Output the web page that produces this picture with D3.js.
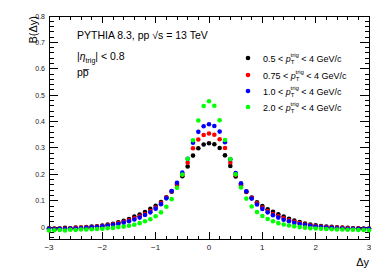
<!DOCTYPE html>
<html>
<head>
<meta charset="utf-8">
<script src="https://cdn.jsdelivr.net/npm/d3@7"></script>
<style>
  body { margin: 0; background: #fff; }
  svg { display: block; font-family: "Liberation Sans", Arial, sans-serif; }
</style>
</head>
<body>
<div id="chart"></div>
<script>
// bin centres in delta y
const dy = [-3.0,-2.9,-2.8,-2.7,-2.6,-2.5,-2.4,-2.3,-2.2,-2.1,-2.0,-1.9,-1.8,-1.7,-1.6,-1.5,-1.4,-1.3,-1.2,-1.1,
            -1.0,-0.9,-0.8,-0.7,-0.6,-0.5,-0.4,-0.3,-0.2,-0.1,0.0,0.1,0.2,0.3,0.4,0.5,0.6,0.7,0.8,0.9,
            1.0,1.1,1.2,1.3,1.4,1.5,1.6,1.7,1.8,1.9,2.0,2.1,2.2,2.3,2.4,2.5,2.6,2.7,2.8,2.9,3.0];

// B(dy) for each trigger pT range
const pt05 = [-0.004,-0.005,-0.005,-0.003,-0.004,-0.002,-0.002,0.000,0.002,0.003,0.006,0.010,0.013,0.018,0.024,0.031,0.040,0.048,0.057,0.069,
              0.081,0.095,0.113,0.134,0.160,0.193,0.230,0.271,0.299,0.313,0.318,0.314,0.300,0.272,0.232,0.192,0.158,0.133,0.112,0.094,
              0.080,0.068,0.058,0.049,0.040,0.032,0.025,0.019,0.014,0.010,0.007,0.004,0.002,0.001,-0.001,-0.002,-0.003,-0.004,-0.004,-0.005,-0.005];
const pt075 = [-0.006,-0.006,-0.005,-0.005,-0.004,-0.003,-0.002,-0.001,0.000,0.002,0.004,0.007,0.011,0.015,0.020,0.026,0.033,0.041,0.050,0.061,
               0.074,0.091,0.112,0.136,0.163,0.199,0.244,0.299,0.332,0.349,0.355,0.350,0.333,0.300,0.245,0.198,0.162,0.135,0.111,0.090,
               0.074,0.061,0.050,0.041,0.033,0.026,0.020,0.015,0.010,0.007,0.004,0.002,0.000,-0.001,-0.002,-0.003,-0.004,-0.005,-0.005,-0.006,-0.006];
const pt10 = [-0.007,-0.008,-0.006,-0.007,-0.005,-0.005,-0.004,-0.003,-0.001,0.000,0.003,0.005,0.009,0.012,0.017,0.022,0.029,0.036,0.046,0.056,
              0.070,0.087,0.109,0.137,0.168,0.207,0.259,0.320,0.361,0.382,0.390,0.383,0.362,0.322,0.257,0.205,0.166,0.136,0.108,0.086,
              0.069,0.056,0.045,0.036,0.028,0.022,0.016,0.012,0.008,0.005,0.002,0.000,-0.002,-0.003,-0.004,-0.005,-0.006,-0.006,-0.007,-0.007,-0.007];
const pt20 = [-0.013,-0.012,-0.011,-0.013,-0.010,-0.011,-0.009,-0.009,-0.008,-0.007,-0.006,-0.004,-0.003,0.000,0.002,0.005,0.009,0.015,0.022,0.030,
              0.041,0.056,0.077,0.106,0.149,0.199,0.259,0.329,0.404,0.459,0.477,0.460,0.405,0.330,0.258,0.200,0.150,0.108,0.078,0.057,
              0.042,0.031,0.022,0.015,0.010,0.006,0.003,0.000,-0.002,-0.004,-0.005,-0.006,-0.007,-0.008,-0.009,-0.009,-0.010,-0.010,-0.011,-0.011,-0.012];

const ptLow = ["0.5", "0.75", "1.0", "2.0"];
const colors = ["#000000", "#ff0000", "#0000ff", "#00ff00"];
const seriesVals = [pt05, pt075, pt10, pt20];

const xTicks = [-3, -2, -1, 0, 1, 2, 3];
const yTicks = [0, 0.1, 0.2, 0.3, 0.4, 0.5, 0.6, 0.7, 0.8];

const W = 378, H = 273;
const margin = {top: 16, right: 9, bottom: 34, left: 49};
const width = W - margin.left - margin.right,
      height = H - margin.top - margin.bottom;

const svg = d3.select("#chart").append("svg")
    .attr("width", W)
    .attr("height", H);

const g = svg.append("g")
    .attr("transform", "translate(" + margin.left + "," + margin.top + ")");

const x = d3.scaleLinear().domain([-3, 3]).range([0, width]);
const y = d3.scaleLinear().domain([-0.045, 0.8]).range([height, 0]);

// minor ticks
const xMinor = d3.range(-3, 3.0001, 0.2);
const yMinor = d3.range(-0.04, 0.8001, 0.02);

function tickLines(sel, vals, horiz, pos, len) {
    sel.selectAll(null).data(vals).enter().append("line")
        .attr("x1", d => horiz ? x(d) : pos)
        .attr("x2", d => horiz ? x(d) : pos + len)
        .attr("y1", d => horiz ? pos : y(d))
        .attr("y2", d => horiz ? pos + len : y(d))
        .attr("stroke", "#000")
        .attr("stroke-width", 1);
}

const ticks = g.append("g").attr("shape-rendering", "crispEdges");
// bottom / top
tickLines(ticks, xTicks, true, height, -7);
tickLines(ticks, xMinor, true, height, -3.5);
tickLines(ticks, xTicks, true, 0, 7);
tickLines(ticks, xMinor, true, 0, 3.5);
// left / right
tickLines(ticks, yTicks, false, 0, 9);
tickLines(ticks, yMinor, false, 0, 4.5);
tickLines(ticks, yTicks, false, width, -9);
tickLines(ticks, yMinor, false, width, -4.5);

// frame
g.append("rect")
    .attr("width", width)
    .attr("height", height)
    .attr("fill", "none")
    .attr("stroke", "#000")
    .attr("stroke-width", 1)
    .attr("shape-rendering", "crispEdges");

// tick labels
g.selectAll(".xl").data(xTicks).enter().append("text")
    .attr("class", "xl")
    .attr("x", d => x(d))
    .attr("y", height + 11)
    .attr("text-anchor", "middle")
    .attr("font-size", 8)
    .attr("fill", "#222")
    .text(d => d < 0 ? "\u2212" + Math.abs(d) : d);

g.selectAll(".yl").data(yTicks).enter().append("text")
    .attr("class", "yl")
    .attr("x", -4)
    .attr("y", d => y(d) + 2.5)
    .attr("text-anchor", "end")
    .attr("font-size", 7)
    .attr("fill", "#222")
    .text(d => d === 0 ? "0" : d3.format(".1f")(d));

// axis titles
svg.append("text")
    .attr("transform", "translate(" + 37 + "," + 16 + ") rotate(-90)")
    .attr("text-anchor", "end")
    .attr("font-size", 11)
    .text("B(\u0394y)");

svg.append("text")
    .attr("x", margin.left + width)
    .attr("y", 266)
    .attr("text-anchor", "end")
    .attr("font-size", 11)
    .text("\u0394y");

// data points
seriesVals.forEach(function(vals, k) {
    g.append("g").selectAll("circle")
        .data(vals.map((v, i) => ({dy: dy[i], b: v})))
        .enter().append("circle")
            .attr("cx", d => x(d.dy))
            .attr("cy", d => y(d.b))
            .attr("r", 2.3)
            .attr("fill", colors[k]);
});

// text block
const tx = 77;
svg.append("text").attr("x", tx).attr("y", 39).attr("font-size", 10.5)
    .text("PYTHIA 8.3, pp \u221As = 13 TeV");

const eta = svg.append("text").attr("x", tx).attr("y", 60).attr("font-size", 10.5);
eta.append("tspan").text("|");
eta.append("tspan").attr("font-style", "italic").text("\u03B7");
eta.append("tspan").attr("font-size", 7).attr("dy", 3).text("trig");
eta.append("tspan").attr("dy", -3).text("| < 0.8");

const ppbar = svg.append("text").attr("x", tx).attr("y", 76).attr("font-size", 10.5);
ppbar.append("tspan").text("p");
ppbar.append("tspan").text("p\u0305");

// legend
const legY = [58, 75, 91, 107];
ptLow.forEach(function(lo, k) {
    const ly = legY[k];
    svg.append("circle").attr("cx", 248).attr("cy", ly).attr("r", 2.3).attr("fill", colors[k]);
    const t = svg.append("text").attr("x", 263).attr("y", ly + 3.5).attr("font-size", 9);
    t.append("tspan").text(lo + " < ");
    t.append("tspan").attr("font-style", "italic").text("p");
    const px = t.append("tspan").attr("font-size", 6).attr("dy", 2.5).text("T");
    t.append("tspan").attr("font-size", 6).attr("dx", -4).attr("dy", -7).text("trig");
    t.append("tspan").attr("dy", 4.5).text(" < 4 GeV/c");
});
</script>
</body>
</html>
